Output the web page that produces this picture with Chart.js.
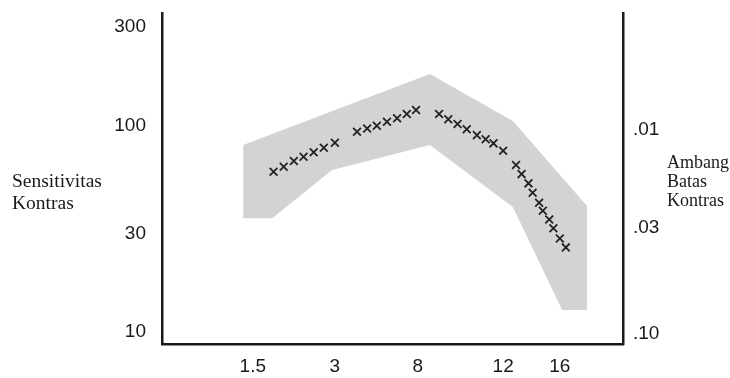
<!DOCTYPE html>
<html>
<head>
<meta charset="utf-8">
<script src="https://cdn.jsdelivr.net/npm/chart.js@4.4.1/dist/chart.umd.min.js"></script>
<style>
  html, body { margin: 0; padding: 0; background: #fff; }
  #wrap { position: relative; width: 730px; height: 378px; }
  .side { position: absolute; font-family: "Liberation Serif", "Times New Roman", serif; font-size: 18px; color: #1a1a1a; }
  #leftTitle { left: 12px; top: 170px; line-height: 22px; font-size: 19.5px; }
  #rightTitle { left: 667px; top: 153px; line-height: 19px; }
</style>
</head>
<body>
<div id="wrap">
  <canvas id="chart" width="730" height="378"></canvas>
  <div class="side" id="leftTitle">Sensitivitas<br>Kontras</div>
  <div class="side" id="rightTitle">Ambang<br>Batas<br>Kontras</div>
</div>
<script>
// x is a position along the (non-uniform) frequency axis, 0..100
const xTickPos = [19.7, 37.5, 55.5, 74.0, 86.3];
const xTickLabels = ["1.5", "3", "8", "12", "16"];

const leftTicks = [10, 30, 100, 300];
const rightTicks = [0.01, 0.03, 0.1];
const rightLabels = [".01", ".03", ".10"];

// measured sensitivity (crosses)
const pointX = [
  24.2, 26.4, 28.6, 30.7, 32.9, 35.1, 37.5,
  42.3, 44.5, 46.6, 48.8, 51.0, 53.1, 55.1,
  60.1, 62.1, 64.1, 66.1, 68.3, 70.2, 71.9, 74.0,
  76.8, 78.0, 79.5, 80.4, 81.8, 82.6, 84.0, 84.9, 86.3, 87.6
];
const pointY = [
  59.7, 63.2, 67.3, 70.6, 74.2, 78.1, 82.6,
  93.3, 96.9, 99.8, 104.3, 108.4, 113.7, 118.9,
  113.7, 107.2, 101.7, 95.9, 89.9, 85.8, 82.0, 75.5,
  64.4, 58.2, 52.5, 47.3, 42.3, 38.7, 35.1, 31.8, 28.4, 25.7
];

// normal range band
const bandTopX = [17.6, 58.1, 76.1, 92.2];
const bandTopY = [80.5, 177.6, 105.1, 40.8];
const bandLowX = [17.6, 23.9, 36.9, 58.1, 76.1, 86.8, 92.2];
const bandLowY = [35.6, 35.6, 60.9, 80.5, 40.3, 12.78, 12.78];

const yMin = 8.75, yMax = 351;
const rightMin = 0.00267, rightMax = 0.112;

function pts(xs, ys) { return xs.map((x, i) => ({ x: x, y: ys[i] })); }

const tickFont = { family: "'Liberation Sans', Arial, Helvetica, sans-serif", size: 19 };
const ink = "#1a1a1a";
const band = "#d3d3d3";

function noPad(s) {
  s.paddingTop = 0;
  s.paddingBottom = 0;
  s.paddingLeft = 0;
  s.paddingRight = 0;
}

new Chart(document.getElementById("chart"), {
  type: "line",
  data: {
    datasets: [
      {
        label: "Sensitivitas",
        data: pts(pointX, pointY),
        showLine: false,
        pointStyle: "crossRot",
        pointRadius: 5.5,
        pointBorderWidth: 1.8,
        pointBorderColor: "#222",
        pointBackgroundColor: "#222",
      },
      {
        label: "upper",
        data: pts(bandTopX, bandTopY),
        borderWidth: 0,
        borderColor: "rgba(0,0,0,0)",
        pointRadius: 0,
        tension: 0,
        fill: false,
      },
      {
        label: "lower",
        data: pts(bandLowX, bandLowY),
        borderWidth: 0,
        borderColor: "rgba(0,0,0,0)",
        backgroundColor: band,
        pointRadius: 0,
        tension: 0,
        fill: "-1",
      },
    ],
  },
  options: {
    responsive: false,
    animation: false,
    events: [],
    layout: { padding: { top: 13, left: 0, right: 0, bottom: 0 } },
    plugins: { legend: { display: false }, tooltip: { enabled: false } },
    scales: {
      x: {
        type: "linear",
        min: 0,
        max: 100,
        grid: { display: false, drawTicks: false },
        border: { display: true, color: ink, width: 2.5 },
        afterBuildTicks: s => { s.ticks = xTickPos.map(v => ({ value: v })); },
        afterFit: s => { s.height = 34; noPad(s); },
        ticks: {
          autoSkip: false,
          maxRotation: 0,
          padding: 11,
          color: ink,
          font: tickFont,
          callback: (v, i) => xTickLabels[i],
        },
      },
      y: {
        type: "logarithmic",
        position: "left",
        min: yMin,
        max: yMax,
        grid: { display: false, drawTicks: false },
        border: { display: true, color: ink, width: 2.5 },
        afterBuildTicks: s => { s.ticks = leftTicks.map(v => ({ value: v })); },
        afterFit: s => { s.width = 162; noPad(s); },
        ticks: {
          autoSkip: false,
          padding: 16,
          color: ink,
          font: tickFont,
          callback: v => String(v),
        },
      },
      y2: {
        type: "logarithmic",
        position: "right",
        reverse: true,
        min: rightMin,
        max: rightMax,
        grid: { display: false, drawTicks: false },
        border: { display: true, color: ink, width: 2.5 },
        afterBuildTicks: s => { s.ticks = rightTicks.map(v => ({ value: v })); },
        afterFit: s => { s.width = 107; noPad(s); },
        ticks: {
          autoSkip: false,
          padding: 10,
          color: ink,
          font: tickFont,
          callback: (v, i) => rightLabels[i],
        },
      },
    },
  },
});
</script>
</body>
</html>
